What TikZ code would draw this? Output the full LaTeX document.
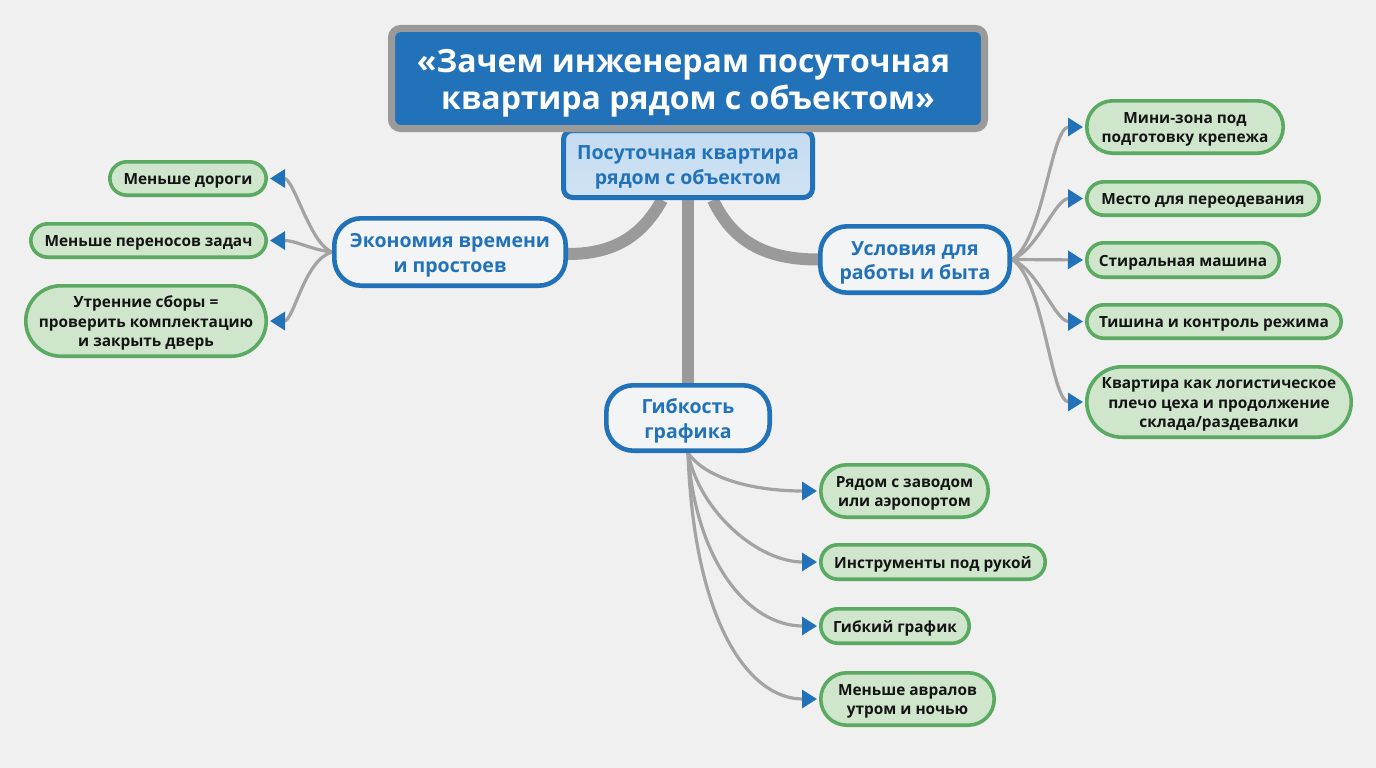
\documentclass[tikz,border=0pt]{standalone}
\usepackage{fontspec}
\setmainfont{Open Sans}
\usetikzlibrary{arrows.meta,backgrounds}
\definecolor{bgc}{HTML}{F0F0F1}
\definecolor{blu}{HTML}{2272B9}
\definecolor{gry}{HTML}{9A9A9A}
\definecolor{lgry}{HTML}{A3A3A3}
\definecolor{lfill}{HTML}{CFE6CC}
\definecolor{lline}{HTML}{5BAA62}
\definecolor{cfilla}{HTML}{C3DBF1}
\definecolor{cfillb}{HTML}{D0E3F3}
\definecolor{tfill}{HTML}{F3F4F6}
\newcommand{\lft}[1]{\rule{0pt}{#1em}}
\tikzset{
 x=1pt,y=-1pt,
 base/.style={rounded corners=#1,align=center,inner sep=0pt},
 leaf/.style={base=17pt,draw=lline,fill=lfill,line width=3.6pt,text=black!92,font=\fontsize{15.4}{19.3}\selectfont\bfseries},
 leafb/.style={leaf,rounded corners=26pt},
 leafc/.style={leaf,rounded corners=35pt},
 topic/.style={base=27pt,draw=blu,fill=tfill,line width=4.6pt,text=blu,font=\fontsize{19.5}{24.5}\selectfont\bfseries},
 hub/.style={base=9pt,draw=blu,top color=cfilla,bottom color=cfillb,line width=5pt,text=blu,font=\fontsize{19.5}{24.5}\selectfont\bfseries},
 ttl/.style={base=9pt,draw=gry,fill=blu,line width=7pt,text=white,font=\fontsize{32}{37}\selectfont\bfseries},
 trunk/.style={draw=gry,line width=12pt},
 twig/.style={draw=lgry,line width=3.2pt,shorten >=2pt,-{Triangle[length=15pt,width=18pt,color=blu]}},
}
\begin{document}
\begin{tikzpicture}
\useasboundingbox (0,0) rectangle (1376,768);
\node[hub,minimum width=249pt,minimum height=67pt] (central) at (688,164) {\lft{1.05}Посуточная квартира\\рядом с объектом};
\node[ttl,minimum width=593pt,minimum height=100pt] (title) at (688,78.5) {\lft{1.05}«Зачем инженерам посуточная\rule{9pt}{0pt}\\квартира рядом с объектом»};
\node[topic,minimum width=231.4pt,minimum height=67.4pt] (econ) at (450,252) {\lft{1.08}Экономия времени\\и простоев};
\node[topic,minimum width=189.4pt,minimum height=66.4pt] (cond) at (915,259.5) {\lft{1.08}Условия для\\работы и быта};
\node[topic,minimum width=163.4pt,minimum height=65.4pt] (flex) at (688,418) {\lft{1.08}Гибкость\\графика};
\node[leaf,minimum width=156.4pt,minimum height=33.4pt] (l1) at (188,178.5) {\lft{1.05}Меньше дороги};
\node[leaf,minimum width=235.4pt,minimum height=33.4pt] (l2) at (148.5,240.5) {\lft{1.05}Меньше переносов задач};
\node[leafc,minimum width=240.4pt,minimum height=70.4pt] (l3) at (146,321) {\lft{1.05}Утренние сборы =\\проверить комплектацию\\и закрыть дверь};
\node[leafb,minimum width=196.4pt,minimum height=52.4pt] (r1) at (1185,127) {\lft{1.05}Мини-зона под\\подготовку крепежа};
\node[leaf,minimum width=232.4pt,minimum height=33.4pt] (r2) at (1203,198.5) {\lft{1.05}Место для переодевания};
\node[leaf,minimum width=192.4pt,minimum height=34.4pt] (r3) at (1183,260) {\lft{1.05}Стиральная машина};
\node[leaf,minimum width=254.4pt,minimum height=33.4pt] (r4) at (1214,321.5) {\lft{1.05}Тишина и контроль режима};
\node[leafc,minimum width=264.4pt,minimum height=70.4pt] (r5) at (1219,402) {\lft{1.05}Квартира как логистическое\\плечо цеха и продолжение\\склада/раздевалки};
\node[leafb,minimum width=167.4pt,minimum height=52.4pt] (b1) at (904.5,491) {\lft{1.05}Рядом с заводом\\или аэропортом};
\node[leaf,minimum width=224.4pt,minimum height=34.4pt] (b2) at (933,562) {\lft{1.05}Инструменты под рукой};
\node[leaf,minimum width=148.4pt,minimum height=34.4pt] (b3) at (895,626) {\lft{1.05}Гибкий график};
\node[leafb,minimum width=173.4pt,minimum height=52.4pt] (b4) at (907.5,699) {\lft{1.05}Меньше авралов\\утром и ночью};
\begin{scope}[on background layer]
\fill[bgc] (0,0) rectangle (1376,768);
\draw[trunk] ([xshift=-26pt]central.south) .. controls +(-20,36) and +(46,0) .. ([yshift=-2pt]econ.east);
\draw[trunk] ([xshift=25pt]central.south) .. controls +(20,42) and +(-52,0) .. (cond.west);
\draw[trunk] (central.south) -- (flex.north);
\draw[twig] (econ.west) .. controls +(-22,-8) and +(26,0) .. (l1.east);
\draw[twig] (econ.west) .. controls +(-20,-2) and +(28,0) .. (l2.east);
\draw[twig] (econ.west) .. controls +(-28,8) and +(26,0) .. (l3.east);
\draw[twig] (cond.east) .. controls +(32,-20) and +(-34,0) .. (r1.west);
\draw[twig] (cond.east) .. controls +(26,-10) and +(-30,0) .. (r2.west);
\draw[twig] (cond.east) -- (r3.west);
\draw[twig] (cond.east) .. controls +(26,10) and +(-30,0) .. (r4.west);
\draw[twig] (cond.east) .. controls +(32,20) and +(-34,0) .. (r5.west);
\draw[twig] (flex.south) .. controls +(20,28) and +(-60,0) .. (b1.west);
\draw[twig] (flex.south) .. controls +(12,60) and +(-60,0) .. (b2.west);
\draw[twig] (flex.south) .. controls +(8,110) and +(-70,0) .. (b3.west);
\draw[twig] (flex.south) .. controls +(6,170) and +(-70,0) .. (b4.west);
\end{scope}
\end{tikzpicture}
\end{document}
